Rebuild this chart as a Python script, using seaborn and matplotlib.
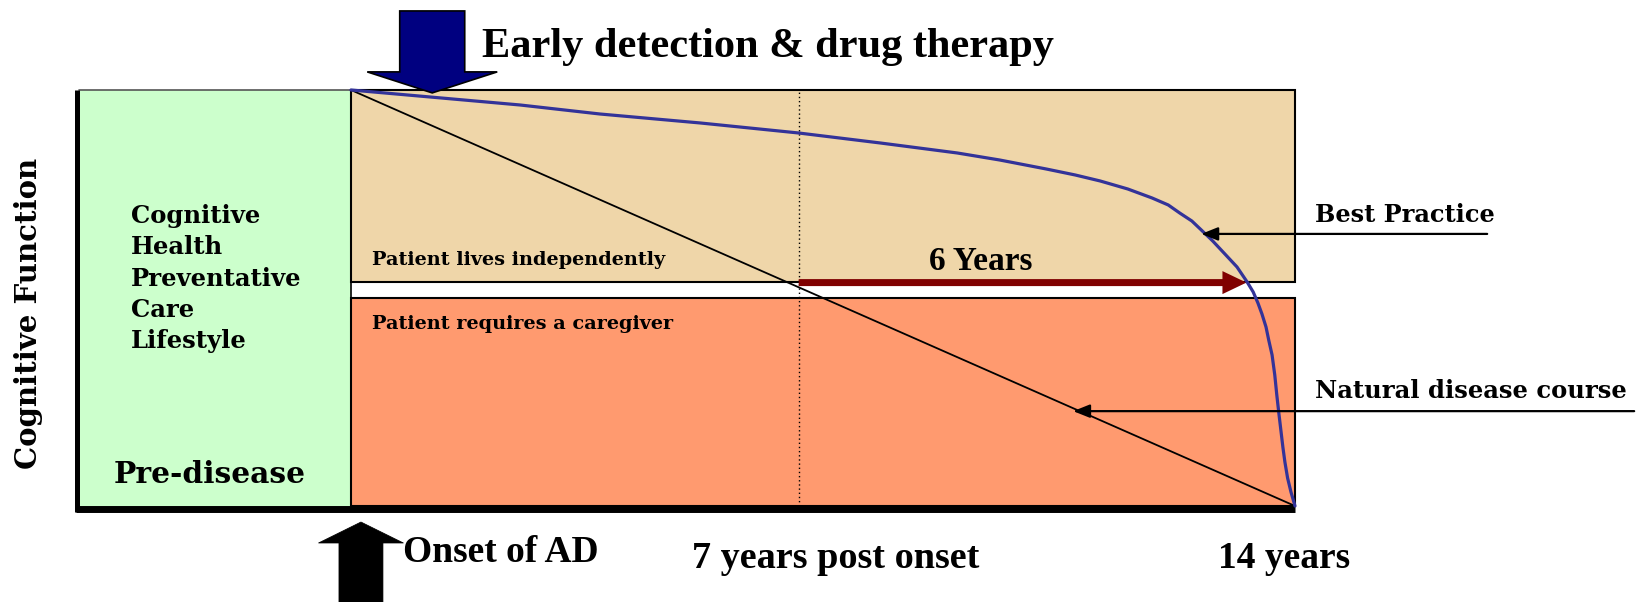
import numpy as np
import pandas as pd
import matplotlib
matplotlib.use("Agg")
import matplotlib.pyplot as plt
import seaborn as sns
from matplotlib.patches import Rectangle, FancyArrow

# ---------------- data ----------------
# Best practice (early detection & drug therapy) trajectory: years post onset vs cognitive function
years_best = [0, 1.17, 2.51, 3.69, 5.18, 6.64, 7.85, 8.99, 9.62, 10.31, 10.74, 11.11,
              11.52, 11.88, 12.12, 12.29, 12.47, 12.61, 12.78, 12.96, 13.14, 13.29,
              13.38, 13.45, 13.51, 13.57, 13.61, 13.66, 13.70, 13.73, 13.76, 13.79,
              13.82, 13.85, 13.89, 13.94, 14.0]
cog_best = [100, 98.32, 96.39, 94.23, 92.07, 89.66, 87.26, 84.86, 83.17, 81.01, 79.57, 78.13,
            76.20, 74.04, 72.36, 70.43, 68.51, 66.35, 63.70, 60.58, 57.45, 53.85,
            51.44, 48.80, 46.15, 43.03, 39.90, 36.30, 31.49, 26.68, 22.36, 18.27,
            14.18, 10.58, 6.73, 3.37, 0]
# Natural disease course
years_natural = [0, 14]
cog_natural = [100, 0]

milestone_years = [0, 6.64, 14]
milestone_labels = ["Onset of AD", "7 years post onset", "14 years"]
pre_disease_start = -4.03
independent_floor = 53.8      # lower edge of "lives independently" band
caregiver_ceiling = 50.0      # upper edge of "requires a caregiver" band
gain_start, gain_end = 6.64, 13.28
gain_label = "6 Years"
pre_disease_lines = ["Cognitive", "Health", "Preventative", "Care", "Lifestyle"]

# ---------------- style ----------------
sns.set_style("white")
SERIF_WIDE = ["DejaVu Serif"]
SERIF_NARROW = ["Liberation Serif", "DejaVu Serif"]
plt.rcParams["font.family"] = SERIF_WIDE
plt.rcParams["text.color"] = "black"

C_GREEN = "#CCFFCC"
C_TAN = "#EFD6A9"
C_ORANGE = "#FF9A6F"
C_BLUE = "#333399"
C_NAVY = "#000080"
C_RED = "#800000"

fig = plt.figure(figsize=(16.42, 6.02), dpi=100)
ax = fig.add_axes([0, 0, 1, 1])

# zones
ax.add_patch(Rectangle((pre_disease_start, 0), -pre_disease_start, 100,
                       fc=C_GREEN, ec="none", zorder=1))
ax.add_patch(Rectangle((0, independent_floor), 14, 100 - independent_floor,
                       fc=C_TAN, ec="black", lw=1.5, zorder=1))
ax.add_patch(Rectangle((0, 0), 14, caregiver_ceiling,
                       fc=C_ORANGE, ec="black", lw=1.5, zorder=1))
ax.plot([pre_disease_start, 0], [100, 100], color="#555555", lw=1.2, zorder=2)
ax.plot([0, 0], [0, 100], color="black", lw=1.2, zorder=2)
# axes-like thick lines
ax.plot([-4.056, -4.056], [-1.5, 100], color="black", lw=3.6, zorder=3, solid_capstyle="butt")
ax.plot([-4.08, 14], [-0.84, -0.84], color="black", lw=5.0, zorder=3, solid_capstyle="butt")
# 7-year dotted marker
ax.plot([milestone_years[1]] * 2, [0, 100], color="black", ls=(0, (1, 2)), lw=1.0, zorder=2)

# curves
df_nat = pd.DataFrame({"year": years_natural, "cog": cog_natural})
df_best = pd.DataFrame({"year": years_best, "cog": cog_best})
sns.lineplot(data=df_nat, x="year", y="cog", ax=ax, color="black", lw=1.3,
             sort=False, estimator=None, zorder=4)
sns.lineplot(data=df_best, x="year", y="cog", ax=ax, color=C_BLUE, lw=2.3,
             sort=False, estimator=None, zorder=5)
ax.lines[-1].set_solid_joinstyle("round")
ax.set_xlim(-5.205, 19.146)
ax.set_ylim(-23.08, 121.63)
ax.axis("off")

# 6-year gain arrow
ax.add_patch(FancyArrow(gain_start, 53.7, gain_end - gain_start, 0, width=7 / 4.16,
                        head_width=23 / 4.16, head_length=24 / 67.43,
                        length_includes_head=True, fc=C_RED, ec="none", zorder=4))
ax.text(9.34, 56.7, gain_label, ha="center", va="baseline",
        fontsize=24, fontweight="bold", family=SERIF_NARROW, zorder=6)

# intervention arrow (down) and onset arrow (up)
ax.add_patch(FancyArrow(1.205, 119.0, 0, 99.3 - 119.0, width=65 / 67.43,
                        head_width=130 / 67.43, head_length=21 / 4.16,
                        length_includes_head=True, fc=C_NAVY, ec="black", lw=1.2, zorder=6))
ax.add_patch(FancyArrow(0.148, -24.0, 0, -3.85 + 24.0, width=44 / 67.43,
                        head_width=85 / 67.43, head_length=21 / 4.16,
                        length_includes_head=True, fc="black", ec="black", lw=0.5, zorder=6))

ax.text(1.94, 107.9, "Early detection & drug therapy", ha="left", va="baseline",
        fontsize=30.5, fontweight="bold", family=SERIF_NARROW)
ax.text(0.77, -13.46, milestone_labels[0], ha="left", va="baseline",
        fontsize=27, fontweight="bold", family=SERIF_NARROW)
ax.text(7.19, -14.9, milestone_labels[1], ha="center", va="baseline",
        fontsize=27.5, fontweight="bold", family=SERIF_NARROW)
ax.text(13.84, -14.9, milestone_labels[2], ha="center", va="baseline",
        fontsize=27, fontweight="bold", family=SERIF_NARROW)

# zone labels
ax.text(0.31, 57.9, "Patient lives independently", ha="left", va="baseline",
        fontsize=13.9, fontweight="bold")
ax.text(0.31, 42.5, "Patient requires a caregiver", ha="left", va="baseline",
        fontsize=13.9, fontweight="bold")
for line, yb in zip(pre_disease_lines, [68.0, 60.6, 52.9, 45.4, 38.0]):
    ax.text(-3.26, yb, line, ha="left", va="baseline", fontsize=17.5, fontweight="bold")
ax.text(-2.09, 5.5, "Pre-disease", ha="center", va="baseline", fontsize=21.4, fontweight="bold")
ax.text(-4.78, 46.2, "Cognitive Function", ha="center", va="center", rotation=90,
        fontsize=21, fontweight="bold")

# call-outs
ax.text(14.30, 68.3, "Best Practice", ha="left", va="baseline", fontsize=17.3, fontweight="bold")
ax.annotate("", xy=(12.61, 65.4), xytext=(16.85, 65.4),
            arrowprops=dict(arrowstyle="-|>,head_length=1.0,head_width=0.4", lw=1.6,
                            color="black", shrinkA=0, shrinkB=0), zorder=7)
ax.text(14.30, 26.0, "Natural disease course", ha="left", va="baseline", fontsize=17.5,
        fontweight="bold")
ax.annotate("", xy=(10.71, 22.8), xytext=(19.03, 22.8),
            arrowprops=dict(arrowstyle="-|>,head_length=1.0,head_width=0.4", lw=1.6,
                            color="black", shrinkA=0, shrinkB=0), zorder=7)

fig.savefig("out.png", dpi=100)
